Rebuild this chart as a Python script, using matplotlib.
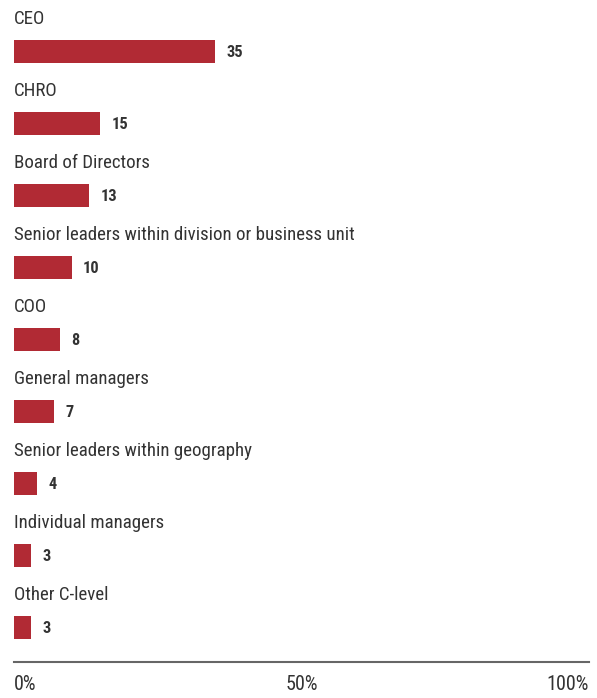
import matplotlib
matplotlib.use("Agg")
import matplotlib.pyplot as plt
from matplotlib import font_manager

categories = [
    "CEO",
    "CHRO",
    "Board of Directors",
    "Senior leaders within division or business unit",
    "COO",
    "General managers",
    "Senior leaders within geography",
    "Individual managers",
    "Other C-level",
]
values = [35, 15, 13, 10, 8, 7, 4, 3, 3]
tick_values = [0, 50, 100]
tick_labels = ["0%", "50%", "100%"]

available = {f.name for f in font_manager.fontManager.ttflist}
family = "Roboto"
for cand in ["Roboto Condensed", "Open Sans Condensed", "Liberation Sans Narrow", "Roboto"]:
    if cand in available:
        family = cand
        break
plt.rcParams["font.family"] = [family, "DejaVu Sans"]

BAR_COLOR = "#B12A34"
TEXT_COLOR = "#333333"

W, H = 597, 698
fig = plt.figure(figsize=(W / 100, H / 100), dpi=100)
left, right = 14 / W, 589 / W
bottom = 1 - 662 / H
ax = fig.add_axes([left, bottom, right - left, 1 - bottom])

row_px = 72.0
first_px = 51.5
ax.set_ylim((662 - first_px) / row_px, -first_px / row_px)
ax.set_xlim(0, 100)

for i, (cat, v) in enumerate(zip(categories, values)):
    ax.barh(i, v, height=23 / row_px, color=BAR_COLOR, left=0)
    ax.text(0, i - 0.45, cat, ha="left", va="center", fontsize=13.6, color=TEXT_COLOR)
    ax.text(v + 2.0, i + 0.02, str(v), ha="left", va="center", fontsize=11.8,
            fontweight="bold", color=TEXT_COLOR)

for s in ["top", "left", "right"]:
    ax.spines[s].set_visible(False)
ax.spines["bottom"].set_color("#666666")
ax.spines["bottom"].set_linewidth(1.5)
ax.set_yticks([])
ax.set_xticks(tick_values)
ax.set_xticklabels(tick_labels, fontsize=14.5, color=TEXT_COLOR)
ax.tick_params(axis="x", length=0, pad=9)
labels = ax.get_xticklabels()
labels[0].set_ha("left")
labels[-1].set_ha("right")

fig.savefig("out.png", dpi=100)
